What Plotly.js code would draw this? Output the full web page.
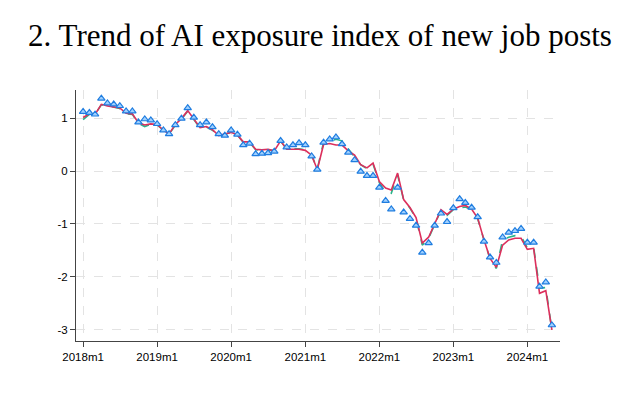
<!DOCTYPE html>
<html>
<head>
<meta charset="utf-8">
<script src="https://cdn.plot.ly/plotly-3.0.1.min.js"></script>
<style>html,body{margin:0;padding:0;background:#fff;}#chart{width:640px;height:397px;}</style>
</head>
<body>
<div id="chart"></div>
<script>
// Monthly observations, 2018m1 .. 2024m5
const startYear = 2018;
const nMonths = 77;
const raw = [1.12,1.10,1.07,1.37,1.28,1.26,1.23,1.13,1.13,0.92,0.98,0.96,
             0.89,0.77,0.70,0.87,0.99,1.19,1.01,0.87,0.92,0.83,0.70,0.67,
             0.77,0.69,0.49,0.52,0.32,0.33,0.34,0.37,0.57,0.45,0.49,0.53,
             0.49,0.28,0.03,0.54,0.60,0.64,0.51,0.35,0.21,-0.01,-0.09,-0.09,
             -0.31,-0.56,-0.72,-0.31,-0.78,-0.90,-1.03,-1.54,-1.36,-1.03,-0.80,-0.96,
             -0.70,-0.53,-0.60,-0.69,-0.87,-1.33,-1.63,-1.73,-1.25,-1.16,-1.13,-1.09,
             -1.35,-1.35,-2.18,-2.10,-2.91];
const redLine = [1.01,1.08,1.07,1.26,1.23,1.21,1.19,1.09,1.08,0.91,0.87,0.89,
                 0.88,0.77,0.70,0.88,0.99,1.14,0.98,0.82,0.84,0.78,0.67,0.70,
                 0.73,0.68,0.55,0.55,0.41,0.40,0.41,0.38,0.57,0.41,0.41,0.41,
                 0.39,0.30,0.03,0.50,0.52,0.49,0.49,0.38,0.30,0.12,0.06,0.15,
                 -0.20,-0.32,-0.36,-0.04,-0.54,-0.69,-0.88,-1.36,-1.25,-1.00,-0.73,-0.82,
                 -0.72,-0.67,-0.65,-0.72,-0.89,-1.30,-1.65,-1.82,-1.40,-1.30,-1.27,-1.27,
                 -1.48,-1.46,-2.31,-2.26,-3.00];
const greenLine = [0.97,1.07,1.07,1.25,1.23,1.21,1.18,1.08,1.07,0.90,0.84,0.88,
                   0.87,0.77,0.69,0.87,0.98,1.13,0.97,0.81,0.83,0.77,0.66,0.69,
                   0.73,0.68,0.54,0.54,0.40,0.39,0.40,0.38,0.56,0.42,0.42,0.42,
                   0.40,0.30,0.04,0.54,0.56,0.60,0.57,0.42,0.28,0.12,0.04,0.13,
                   -0.22,-0.40,-0.42,-0.07,-0.55,-0.70,-0.89,-1.40,-1.27,-1.00,-0.74,-0.84,
                   -0.73,-0.70,-0.68,-0.73,-0.90,-1.30,-1.66,-1.84,-1.30,-1.25,-1.22,-1.23,
                   -1.45,-1.44,-2.21,-2.20,-3.00];
const xTickVals = ['2018-01-01','2019-01-01','2020-01-01','2021-01-01','2022-01-01','2023-01-01','2024-01-01'];
const xTickText = ['2018m1','2019m1','2020m1','2021m1','2022m1','2023m1','2024m1'];
const yTickVals = [1,0,-1,-2,-3];
const yTickText = ['1','0','-1','-2','-3'];

const dates = [];
for (let i = 0; i < nMonths; i++) {
  const y = startYear + Math.floor(i / 12);
  const m = (i % 12) + 1;
  dates.push(y + '-' + String(m).padStart(2, '0') + '-01');
}

const traces = [
  {x: dates, y: greenLine, type: 'scatter', mode: 'lines',
   line: {color: '#2ab58a', width: 1.6, dash: 'dash'}, hoverinfo: 'skip'},
  {x: dates, y: redLine, type: 'scatter', mode: 'lines',
   line: {color: '#dc2f5c', width: 1.6}, hoverinfo: 'skip'},
  {x: dates, y: raw, type: 'scatter', mode: 'markers',
   marker: {symbol: 'triangle-up', size: 6.5, color: '#9fd0ff',
            line: {color: '#1f7de0', width: 1.2}}, hoverinfo: 'skip'}
];

const layout = {
  width: 640, height: 397,
  paper_bgcolor: '#fff', plot_bgcolor: '#fff',
  showlegend: false,
  margin: {l: 76, r: 80, t: 90, b: 56},
  title: {text: '2. Trend of AI exposure index of new job posts',
          font: {family: '"Liberation Serif", "Times New Roman", serif', size: 31, color: '#000'},
          x: 0.5, xanchor: 'center', y: 0.94, yanchor: 'top'},
  xaxis: {type: 'date', range: ['2017-11-27', '2024-06-10'],
          tickmode: 'array', tickvals: xTickVals, ticktext: xTickText,
          showline: true, linecolor: '#444', linewidth: 1,
          ticks: 'outside', ticklen: 5, tickcolor: '#444',
          showgrid: true, gridcolor: '#e3e3e3', griddash: 'dash', gridwidth: 1,
          zeroline: false,
          tickfont: {family: '"Liberation Sans", Arial, sans-serif', size: 11.5, color: '#000'}},
  yaxis: {range: [-3.21, 1.53],
          tickmode: 'array', tickvals: yTickVals, ticktext: yTickText,
          showline: true, linecolor: '#444', linewidth: 1,
          ticks: 'outside', ticklen: 5, tickcolor: '#444',
          showgrid: true, gridcolor: '#e3e3e3', griddash: 'dash', gridwidth: 1,
          zeroline: false,
          tickfont: {family: '"Liberation Sans", Arial, sans-serif', size: 11.5, color: '#000'}}
};

Plotly.newPlot('chart', traces, layout, {staticPlot: true, displayModeBar: false});
</script>
</body>
</html>
